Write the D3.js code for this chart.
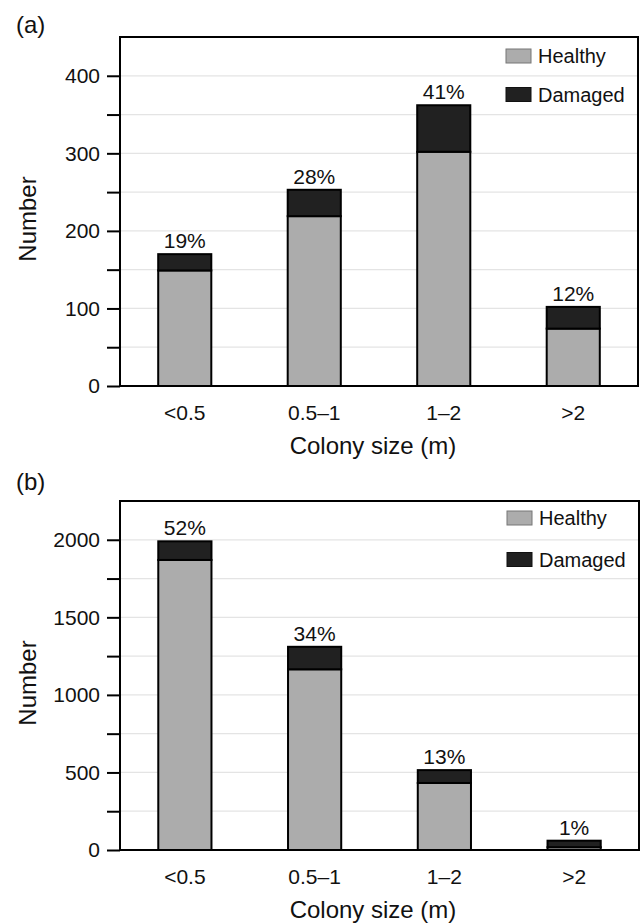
<!DOCTYPE html>
<html>
<head>
<meta charset="utf-8">
<script src="https://cdn.jsdelivr.net/npm/d3@7"></script>
<style>
  body { margin: 0; background: #fff; }
  text { font-family: 'Liberation Sans', Arial, sans-serif; fill: #111; }
</style>
</head>
<body>
<svg id="chart"></svg>
<script>
const sizes = ['<0.5', '0.5–1', '1–2', '>2'];

const healthyA = [149, 219, 302, 74];
const damagedA = [21, 34, 60, 28];
const pctA = ['19%', '28%', '41%', '12%'];
const ticksA = [0, 100, 200, 300, 400];
const minorA = [50, 150, 250, 350];

const healthyB = [1870, 1165, 432, 18];
const damagedB = [120, 145, 83, 42];
const pctB = ['52%', '34%', '13%', '1%'];
const ticksB = [0, 500, 1000, 1500, 2000];
const minorB = [250, 750, 1250, 1750];

const svg = d3.select('#chart')
.attr('width', 643)
.attr('height', 923);

const colors = {healthy: '#acacac', damaged: '#212121'};
const fontFam = "'Liberation Sans', Arial, sans-serif";

function drawPanel(opt) {
  const x = d3.scaleBand()
  .domain(sizes)
  .range([opt.left, opt.right])
  .paddingInner(0.59)
  .paddingOuter(0.295);

  const y = d3.scaleLinear()
  .domain([0, opt.max])
  .range([opt.bottom, opt.top]);

  const g = svg.append('g');

  // light grid lines at every tick (major + minor)
  const allTicks = opt.ticks.concat(opt.minor).filter(d => d > 0);
  g.selectAll('.grid')
  .data(allTicks)
  .enter()
  .append('line')
  .attr('x1', opt.left).attr('x2', opt.right)
  .attr('y1', d => y(d)).attr('y2', d => y(d))
  .attr('stroke', '#e4e4e4')
  .attr('stroke-width', 1.2);

  const rows = sizes.map((s, i) => ({
    size: s,
    healthy: opt.healthy[i],
    damaged: opt.damaged[i],
    pct: opt.pct[i]
  }));

  g.selectAll('.healthy')
  .data(rows)
  .enter()
  .append('rect')
  .attr('x', d => x(d.size))
  .attr('y', d => y(d.healthy))
  .attr('width', x.bandwidth())
  .attr('height', d => opt.bottom - y(d.healthy))
  .attr('fill', colors.healthy)
  .attr('stroke', '#000')
  .attr('stroke-width', 2);

  g.selectAll('.damaged')
  .data(rows)
  .enter()
  .append('rect')
  .attr('x', d => x(d.size))
  .attr('y', d => y(d.healthy + d.damaged))
  .attr('width', x.bandwidth())
  .attr('height', d => y(d.healthy) - y(d.healthy + d.damaged))
  .attr('fill', colors.damaged)
  .attr('stroke', '#000')
  .attr('stroke-width', 2);

  g.selectAll('.pct')
  .data(rows)
  .enter()
  .append('text')
  .attr('x', d => x(d.size) + x.bandwidth() / 2)
  .attr('y', d => y(d.healthy + d.damaged) - 6)
  .attr('text-anchor', 'middle')
  .style('font-size', '21px')
  .text(d => d.pct);

  // frame
  g.append('rect')
  .attr('x', opt.left).attr('y', opt.top)
  .attr('width', opt.right - opt.left)
  .attr('height', opt.bottom - opt.top)
  .attr('fill', 'none')
  .attr('stroke', '#000')
  .attr('stroke-width', 2);

  // y axis
  const yAxis = g.append('g')
  .attr('transform', `translate(${opt.left},0)`)
  .call(d3.axisLeft(y)
    .tickValues(opt.ticks.concat(opt.minor))
    .tickSize(13)
    .tickPadding(7)
    .tickFormat(d => opt.ticks.includes(d) ? d : ''));
  yAxis.select('.domain').remove();
  yAxis.selectAll('line').attr('stroke', '#000').attr('stroke-width', 2);
  yAxis.selectAll('text')
  .style('font-size', '21px')
  .style('font-family', fontFam)
  .attr('fill', '#111');

  // x axis, labels only
  const xAxis = g.append('g')
  .attr('transform', `translate(0,${opt.bottom})`)
  .call(d3.axisBottom(x).tickSize(0).tickPadding(19));
  xAxis.select('.domain').remove();
  xAxis.selectAll('text')
  .style('font-size', '21px')
  .style('font-family', fontFam)
  .attr('fill', '#111');

  g.append('text')
  .attr('x', 373)
  .attr('y', opt.bottom + 68)
  .attr('text-anchor', 'middle')
  .style('font-size', '24px')
  .text('Colony size (m)');

  g.append('text')
  .attr('transform', `translate(36,${(opt.top + opt.bottom) / 2 + 7.5}) rotate(-90)`)
  .attr('text-anchor', 'middle')
  .style('font-size', '24px')
  .text('Number');

  g.append('text')
  .attr('x', 16)
  .attr('y', opt.labelY)
  .style('font-size', '24px')
  .text(opt.label);

  // legend
  const legend = [
    {label: 'Healthy', color: colors.healthy, line: '#777'},
    {label: 'Damaged', color: colors.damaged, line: '#111'}
  ];
  legend.forEach((l, i) => {
    const ly = opt.top + opt.legTop + i * opt.legGap;
    g.append('rect')
    .attr('x', opt.right - 132).attr('y', ly)
    .attr('width', 25).attr('height', 14)
    .attr('fill', l.color)
    .attr('stroke', l.line)
    .attr('stroke-width', 1);
    g.append('text')
    .attr('x', opt.right - 100).attr('y', ly + 14)
    .style('font-size', '20px')
    .text(l.label);
  });
}

drawPanel({
  label: '(a)', labelY: 33, top: 37, bottom: 386, left: 120, right: 638, max: 450,
  legTop: 12, legGap: 38.5,
  healthy: healthyA, damaged: damagedA, pct: pctA, ticks: ticksA, minor: minorA
});

drawPanel({
  label: '(b)', labelY: 490, top: 501, bottom: 850, left: 120, right: 639, max: 2250,
  legTop: 10, legGap: 41.5,
  healthy: healthyB, damaged: damagedB, pct: pctB, ticks: ticksB, minor: minorB
});
</script>
</body>
</html>
